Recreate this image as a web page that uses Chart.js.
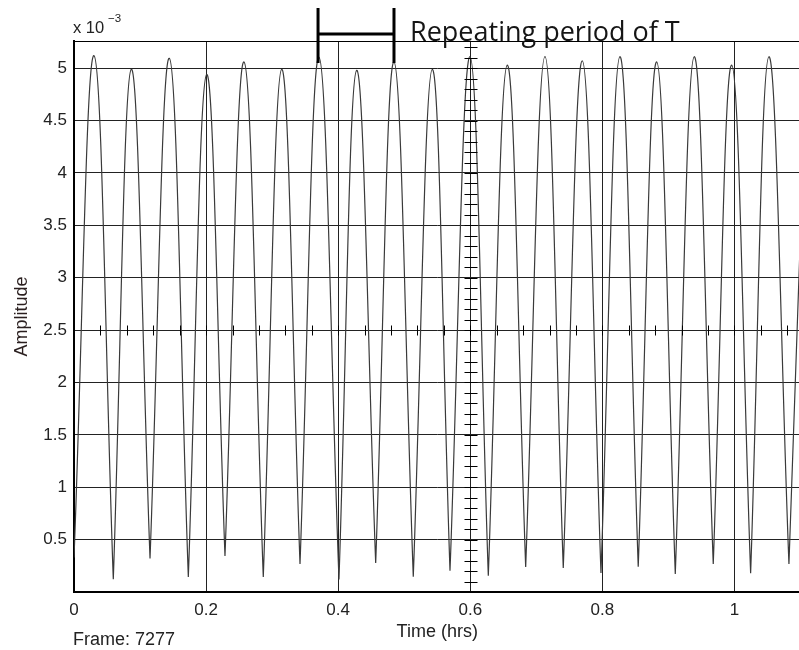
<!DOCTYPE html>
<html lang="en">
<head>
<meta charset="UTF-8">
<title>Amplitude vs Time</title>
<script src="https://cdn.jsdelivr.net/npm/chart.js"></script>
<style>
  html, body { margin: 0; padding: 0; background: #fff; overflow: hidden; }
  canvas { display: block; }
</style>
</head>
<body>
<canvas id="ampChart" width="810" height="650"></canvas>
<script>
// values (amplitude in units of 1e-3, time in hours)
const startTime = 0;
const startValue = 0.33;

const peakTimes = [0.0303, 0.0868, 0.1443, 0.2009, 0.2574, 0.3145, 0.3709, 0.4280, 0.4845, 0.5425,
                   0.5995, 0.6560, 0.7131, 0.7696, 0.8266, 0.8822, 0.9391, 0.9958, 1.0522, 1.1090];
const peakValues = [5.12, 4.99, 5.095, 4.94, 5.06, 4.99, 5.105, 4.98, 5.06, 4.99,
                    5.11, 5.03, 5.11, 5.07, 5.11, 5.06, 5.11, 5.03, 5.11, 5.05];

const troughTimes = [0.0595, 0.1151, 0.1731, 0.2286, 0.2866, 0.3422, 0.4012, 0.4568, 0.5137, 0.5693,
                     0.6273, 0.6839, 0.7408, 0.7979, 0.8543, 0.9104, 0.9679, 1.0245, 1.0825];
const troughValues = [0.121, 0.32, 0.143, 0.344, 0.143, 0.267, 0.12, 0.277, 0.146, 0.203,
                      0.156, 0.239, 0.229, 0.181, 0.242, 0.172, 0.267, 0.179, 0.267];

const crossX = 0.6;      // vertical crosshair with minor ticks
const crossY = 2.5;      // horizontal crosshair with minor ticks
const periodFrom = 0.3695;
const periodTo = 0.4845;

// build the point list; each trough is listed twice so the spline keeps a sharp tip there
const series = [{x: startTime, y: startValue}];
peakTimes.forEach((t, i) => {
    series.push({x: t, y: peakValues[i]});
    if (i < troughTimes.length) {
        series.push({x: troughTimes[i], y: troughValues[i]});
        series.push({x: troughTimes[i], y: troughValues[i]});
    }
});

const font = 'Liberation Sans, Arial, sans-serif';

const decorations = {
    id: 'decorations',
    afterDraw(chart) {
        const {ctx, chartArea: a, scales: {x, y}} = chart;
        ctx.save();
        ctx.strokeStyle = '#000';
        ctx.lineWidth = 1;

        // top frame line
        ctx.beginPath();
        ctx.moveTo(a.left, a.top + 0.5);
        ctx.lineTo(a.right, a.top + 0.5);
        ctx.stroke();

        // minor ticks on the crosshair lines
        const cx = Math.round(x.getPixelForValue(crossX)) + 0.5;
        ctx.beginPath();
        for (let k = 1; k <= 52; k++) {
            const py = Math.round(y.getPixelForValue(k * 0.1)) + 0.5;
            ctx.moveTo(cx - 6, py);
            ctx.lineTo(cx + 7, py);
        }
        const cy = Math.round(y.getPixelForValue(crossY)) + 0.5;
        for (let k = 1; k <= 27; k++) {
            const px = Math.round(x.getPixelForValue(k * 0.04)) + 0.5;
            ctx.moveTo(px, cy - 5);
            ctx.lineTo(px, cy + 5);
        }
        ctx.stroke();

        // exponent above the y axis
        ctx.fillStyle = '#222';
        ctx.textAlign = 'left';
        ctx.textBaseline = 'alphabetic';
        ctx.font = '16.5px ' + font;
        ctx.fillText('x 10', 73, 33);
        ctx.font = '11.5px ' + font;
        ctx.fillText('\u22123', 108, 22);

        // frame number under the axis
        ctx.font = '18px ' + font;
        ctx.fillText('Frame: 7277', 73, 645, 106);

        // period bracket
        const x0 = x.getPixelForValue(periodFrom);
        const x1 = x.getPixelForValue(periodTo);
        ctx.lineWidth = 3;
        ctx.beginPath();
        ctx.moveTo(x0, 8); ctx.lineTo(x0, 63);
        ctx.moveTo(x1, 8); ctx.lineTo(x1, 63);
        ctx.moveTo(x0, 34); ctx.lineTo(x1, 34);
        ctx.stroke();

        ctx.fillStyle = '#151515';
        ctx.font = '27px "Open Sans", sans-serif';
        ctx.fillText('Repeating period of T', 410, 41, 278);
        ctx.restore();
    }
};

const ctx = document.getElementById('ampChart').getContext('2d');
new Chart(ctx, {
    type: 'line',
    data: {
        datasets: [{
            data: series,
            borderColor: '#3a3a3a',
            borderWidth: 1.2,
            borderJoinStyle: 'bevel',
            pointRadius: 0,
            tension: 0.4,
            fill: false
        }]
    },
    options: {
        responsive: false,
        animation: false,
        layout: { padding: { top: 41, right: 9.5, left: 0, bottom: 0 } },
        plugins: {
            legend: { display: false },
            tooltip: { enabled: false }
        },
        scales: {
            x: {
                type: 'linear',
                min: 0,
                max: 1.1,
                afterFit: s => { s.height = 58; },
                grid: { color: '#222', lineWidth: 1, drawTicks: false },
                border: { color: '#000', width: 2 },
                ticks: {
                    stepSize: 0.2,
                    includeBounds: false,
                    autoSkip: false,
                    maxRotation: 0,
                    padding: 8,
                    color: '#222',
                    font: { family: font, size: 17 },
                    callback: v => +v.toFixed(2)
                },
                title: {
                    display: true,
                    text: 'Time (hrs)',
                    color: '#222',
                    font: { family: font, size: 18 },
                    padding: { top: 0, bottom: 7 }
                }
            },
            y: {
                min: 0,
                max: 5.26,
                afterFit: s => { s.width = 74; },
                grid: { color: '#222', lineWidth: 1, drawTicks: false },
                border: { color: '#000', width: 2 },
                ticks: {
                    stepSize: 0.5,
                    includeBounds: false,
                    padding: 7,
                    color: '#222',
                    font: { family: font, size: 17 },
                    callback: v => v === 0 ? '' : +v.toFixed(1)
                },
                title: {
                    display: true,
                    text: 'Amplitude',
                    color: '#2a1f1f',
                    font: { family: font, size: 18 },
                    padding: { top: 11, bottom: 0 }
                }
            }
        }
    },
    plugins: [decorations]
});
</script>
</body>
</html>
